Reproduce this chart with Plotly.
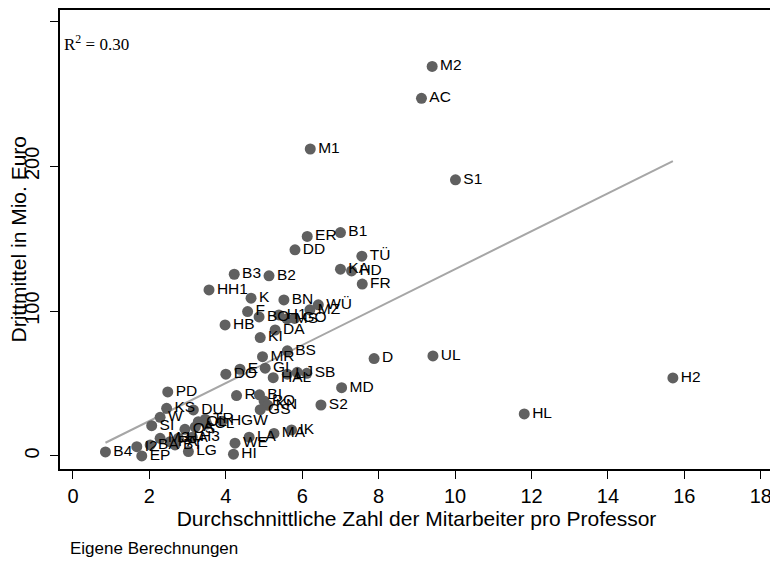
import plotly.graph_objects as go

labels = ["M2","AC","S1","M1","ER","B1","DD","TÜ","KA","HD","FR","B3","B2","HH1","K","BN","F","BO","H1","MS","GÖ","MZ","WÜ",
          "HB","DA","KI","MR","BS","E","DO","GI","HAL","L","J","SB","D","UL","H2","HL","S2","MD","PD","R","BI","RO","KN","GS",
          "KS","W","SI","DU","OL","TR","HGW","OS","A","CL","IK","MA","WE","HI","LA","LG","B4","EP","M3","H3","PA","BT","BA","HA","I2"]
xs = [9.40,9.12,10.01,6.21,6.13,7.00,5.81,7.56,7.00,7.29,7.57,4.22,5.13,3.56,4.66,5.52,4.57,4.87,5.39,5.60,5.80,6.20,6.42,
      3.98,5.29,4.90,4.96,5.61,4.37,4.00,5.03,5.24,5.61,5.87,6.12,7.88,9.42,15.70,11.81,6.49,7.03,2.48,4.28,4.88,5.00,5.10,4.90,
      2.45,2.28,2.06,3.15,3.28,3.46,3.90,2.93,3.20,3.50,5.72,5.26,4.24,4.20,4.61,3.02,0.85,1.80,2.28,3.12,2.54,2.67,2.02,2.76,1.67]
ys = [269,247,190.7,212,151.6,154.3,142.4,138,129,127.8,118.7,125.5,124.4,114.7,109,107.8,99.7,96,97.4,94.7,95,100.9,104.4,
      90.5,87,81.8,68.6,72.6,59.9,56.5,60.6,54.1,56.5,57.8,57.1,67.3,69.1,53.9,29.0,35.2,47.2,44.2,41.7,42.2,38,35,32,
      32.9,26.7,20.9,31.8,23.7,25.3,24,18.4,20,22,18,15.6,8.8,1.2,13,3.0,2.8,0.0,12.2,13,9.9,7.6,7.6,12.2,6.4]

# fitted line: intercept, slope
fit_coef = [-2.0, 13.1]
r2_text = "R<sup>2</sup> = 0.30"
y_title = "Drittmittel in Mio. Euro"
x_title = "Durchschnittliche Zahl der Mitarbeiter pro Professor"
note = "Eigene Berechnungen"

fx = [min(xs), max(xs)]
fy = [fit_coef[0] + fit_coef[1] * v for v in fx]

font = "Arial, Liberation Sans, sans-serif"
fig = go.Figure()
fig.add_trace(go.Scatter(x=fx, y=fy, mode="lines", line=dict(color="#a6a6a6", width=2), hoverinfo="skip"))
fig.add_trace(go.Scatter(x=xs, y=ys, mode="markers+text", text=labels, textposition="middle right",
                         marker=dict(size=11, color="#606060"),
                         textfont=dict(family=font, size=15.5, color="#000000")))
# page body has an 8px default margin; the figure is sized to fit inside it
fig.update_layout(
    width=770, height=554, showlegend=False,
    plot_bgcolor="white", paper_bgcolor="white",
    margin=dict(l=52, r=5, t=2, b=93),
    font=dict(family=font, color="#000000"),
    xaxis=dict(range=[-0.34, 18.32], tickvals=[0,2,4,6,8,10,12,14,16,18], showgrid=False, zeroline=False,
               showline=True, mirror=True, linecolor="#000000", linewidth=1.5, automargin=False,
               ticks="outside", ticklen=8, tickcolor="#000000", tickfont=dict(size=20),
               title=dict(text=x_title, font=dict(size=21), standoff=6)),
    yaxis=dict(range=[-9, 308], tickvals=[0,100,200,300], showgrid=False, zeroline=False,
               showline=True, mirror=True, linecolor="#000000", linewidth=1.5, automargin=False,
               ticks="outside", ticklen=8, tickcolor="#000000", tickfont=dict(size=20), tickangle=-90,
               ticklabelstandoff=3),
)
fig.add_annotation(x=0, y=0.5, xref="paper", yref="paper", xanchor="center", yanchor="middle", xshift=-42,
                   text=y_title, textangle=-90, showarrow=False, font=dict(family=font, size=21))
fig.add_annotation(x=0, y=1, xref="paper", yref="paper", xanchor="left", yanchor="top", xshift=2, yshift=-20,
                   text=r2_text, showarrow=False, font=dict(family="Times New Roman, Liberation Serif, serif", size=17))
fig.add_annotation(x=0, y=0, xref="paper", yref="paper", xanchor="left", yanchor="middle",
                   xshift=8, yshift=-79, text=note, showarrow=False,
                   font=dict(family=font, size=17))
fig.write_html("out.html")
